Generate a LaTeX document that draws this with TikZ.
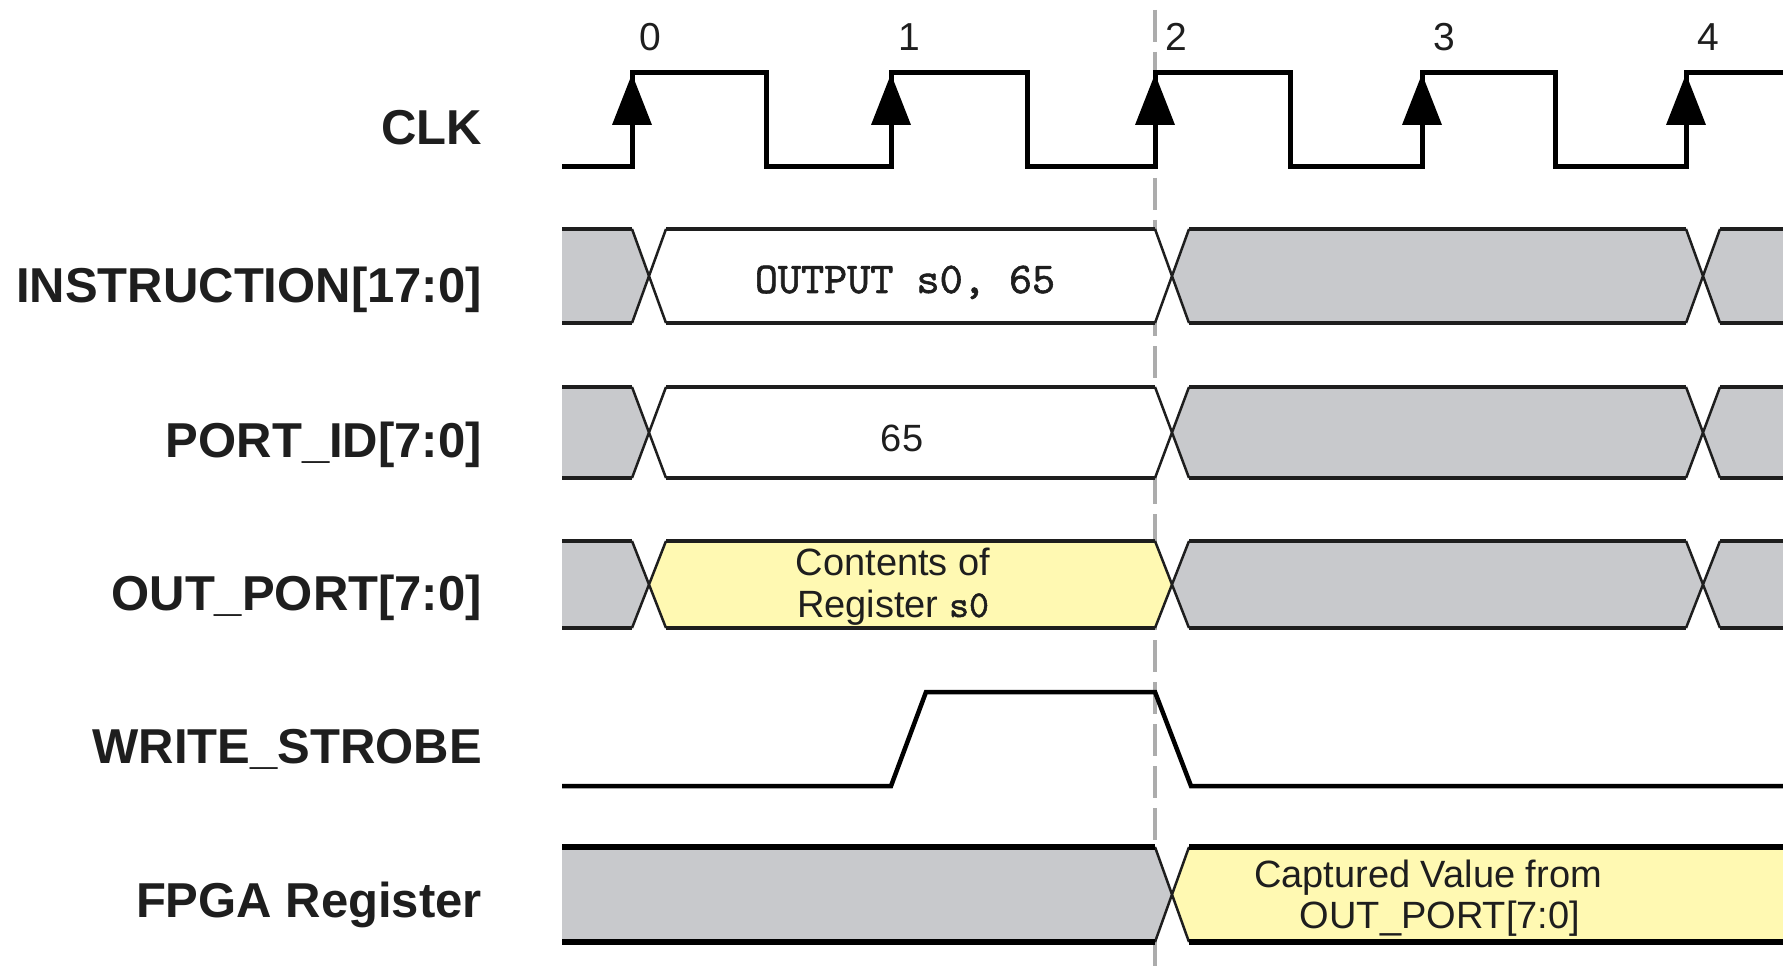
\documentclass[tikz,border=0pt]{standalone}
\usepackage{fontspec}
\setmainfont{Liberation Sans}
\newfontfamily\courbold{lmmono10-regular.otf}[FakeBold=1.3]
\definecolor{busgray}{RGB}{200,201,204}
\definecolor{busyellow}{RGB}{255,249,178}
\definecolor{ink}{RGB}{30,30,30}
\definecolor{dashgray}{RGB}{172,172,172}
\tikzset{
  sig/.style={line width=5pt, black, line join=miter, line cap=butt},
  hline/.style={line width=4pt, ink},
  xline/.style={line width=2.5pt, ink, line join=round},
  lbl/.style={anchor=base east, inner sep=0pt, text=ink, font=\fontsize{49}{55}\selectfont\bfseries},
  num/.style={anchor=base, inner sep=0pt, text=ink, font=\fontsize{39}{44}\selectfont},
  btxt/.style={anchor=base, inner sep=0pt, text=ink, font=\fontsize{38}{42}\selectfont},
  ctxt/.style={anchor=base, inner sep=0pt, text=ink, font=\fontsize{44}{48}\selectfont\courbold},
  edgearrow/.style={fill=black},
  guide/.style={line width=4pt, dashgray, dash pattern=on 32pt off 10pt},
}
% open-left segment, pointed right end
\newcommand{\segOL}[5]{%
  \pgfmathsetmacro\ymid{(#3+#4)/2}%
  \fill[#5] (#1,#3) -- (#2,#3) -- (#2+17,\ymid) -- (#2,#4) -- (#1,#4) -- cycle;
  \draw[xline] (#2,#3) -- (#2+17,\ymid) -- (#2,#4);
  \draw[hline] (#1,#3) -- (#2,#3) (#1,#4) -- (#2,#4);
}
% segment pointed on both ends
\newcommand{\segPP}[5]{%
  \pgfmathsetmacro\ymid{(#3+#4)/2}%
  \fill[#5] (#1,#3) -- (#2,#3) -- (#2+17,\ymid) -- (#2,#4) -- (#1,#4) -- (#1-17,\ymid) -- cycle;
  \draw[xline] (#2,#3) -- (#2+17,\ymid) -- (#2,#4) (#1,#3) -- (#1-17,\ymid) -- (#1,#4);
  \draw[hline] (#1,#3) -- (#2,#3) (#1,#4) -- (#2,#4);
}
% pointed left end, open right
\newcommand{\segOR}[5]{%
  \pgfmathsetmacro\ymid{(#3+#4)/2}%
  \fill[#5] (#1,#3) -- (#2,#3) -- (#2,#4) -- (#1,#4) -- (#1-17,\ymid) -- cycle;
  \draw[xline] (#1,#3) -- (#1-17,\ymid) -- (#1,#4);
  \draw[hline] (#1,#3) -- (#2,#3) (#1,#4) -- (#2,#4);
}
\begin{document}
\begin{tikzpicture}[x=1pt,y=-1pt]
\useasboundingbox (0,0) rectangle (1783,968);
\fill[white] (0,0) rectangle (1783,968);

% guide line at edge 2
\coordinate (gtop) at (1155,10);
\coordinate (gbot) at (1155,975);
\draw[guide] (gtop) -- (gbot);

% CLK
\draw[sig] (562,167) -- (632,167) -- (632,73) -- (766,73) -- (766,167) -- (891,167)
  -- (891,73) -- (1027,73) -- (1027,167) -- (1155,167) -- (1155,73) -- (1290,73)
  -- (1290,167) -- (1422,167) -- (1422,73) -- (1555,73) -- (1555,167) -- (1686,167)
  -- (1686,73) -- (1795,73);
\foreach \e in {632,891,1155,1422,1686}
  \fill[edgearrow] (\e-20,125) -- (\e+20,125) -- (\e,74) -- cycle;
\node[num] (n0) at (650,51) {0};
\node[num] (n1) at (909,51) {1};
\node[num] (n2) at (1176,51) {2};
\node[num] (n3) at (1444,51) {3};
\node[num] (n4) at (1708,51) {4};

% INSTRUCTION
\segOL{562}{632}{229}{323}{busgray}
\segPP{666}{1155}{229}{323}{white}
\segPP{1189}{1686}{229}{323}{busgray}
\segOR{1720}{1795}{229}{323}{busgray}
\node[ctxt] (tins) at (905,293) {OUTPUT s0, 65};

% PORT_ID
\segOL{562}{632}{387}{478}{busgray}
\segPP{666}{1155}{387}{478}{white}
\segPP{1189}{1686}{387}{478}{busgray}
\segOR{1720}{1795}{387}{478}{busgray}
\node[btxt] (tpid) at (902,451) {65};

% OUT_PORT
\segOL{562}{632}{541}{628}{busgray}
\segPP{666}{1155}{541}{628}{busyellow}
\segPP{1189}{1686}{541}{628}{busgray}
\segOR{1720}{1795}{541}{628}{busgray}
\node[btxt] (tout1) at (893,575) {Contents of};
\node[btxt] (tout2) at (893,617) {Register {\fontsize{38}{40}\selectfont\courbold s0}};

% WRITE_STROBE
\draw[sig, line width=4.5pt] (562,786) -- (891,786) -- (926,692) -- (1155,692) -- (1191,786) -- (1795,786);

% FPGA Register
\tikzset{hline/.style={line width=5.5pt, black}}
\segOL{562}{1155}{847}{942}{busgray}
\segOR{1189}{1795}{847}{942}{busyellow}
\node[btxt] (tfp1) at (1428,887) {Captured Value from};
\node[btxt] (tfp2) at (1440,928) {OUT\_PORT[7:0]};

% labels
\node[lbl] (lclk) at (482,145) {CLK};
\node[lbl] (lins) at (482,302) {INSTRUCTION[17:0]};
\node[lbl] (lpid) at (482,457) {PORT\_ID[7:0]};
\node[lbl] (lout) at (482,610) {OUT\_PORT[7:0]};
\node[lbl] (lws) at (482,763) {WRITE\_STROBE};
\node[lbl] (lfp) at (482,917) {FPGA Register};
\end{tikzpicture}
\end{document}
